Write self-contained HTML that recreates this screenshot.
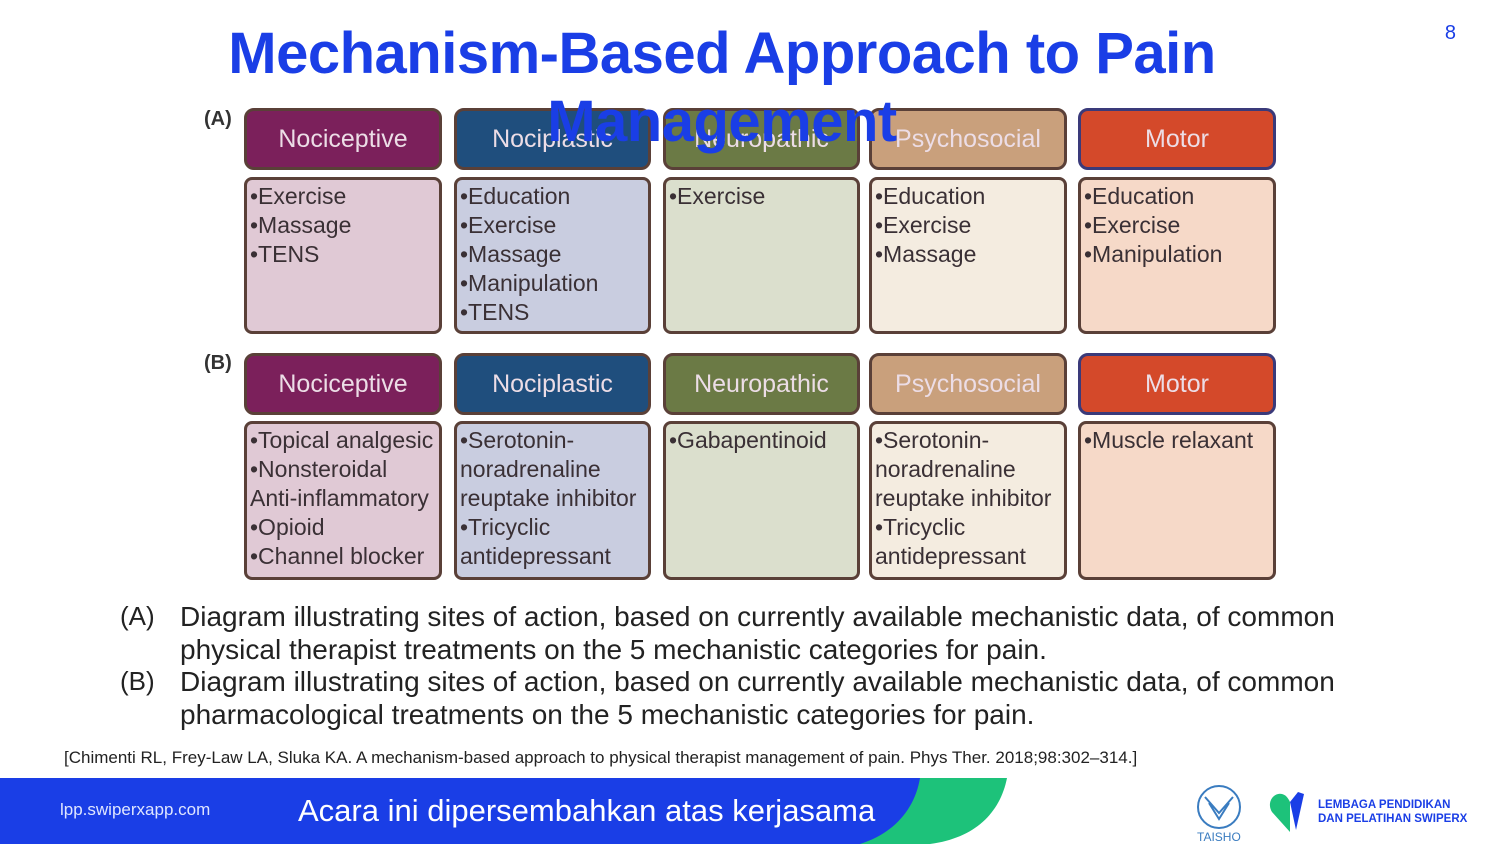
<!DOCTYPE html>
<html><head><meta charset="utf-8"><style>
body{margin:0;width:1500px;height:844px;background:#fff;position:relative;overflow:hidden;font-family:"Liberation Sans",sans-serif}
.t{position:absolute;left:0;width:1444px;text-align:center;font-weight:bold;color:#1a3ee6;font-size:58px;line-height:68px;letter-spacing:-0.5px}
.h,.b{position:absolute;box-sizing:border-box;border:3px solid #5a4038;border-radius:10px}
.h{height:62px;color:#ecdde6;font-size:25px;text-align:center;line-height:56px}
.b{padding:2px 3px;font-size:23px;line-height:29px;color:#3a3035;border-radius:8px}
.lab{position:absolute;font-weight:bold;font-size:20px;color:#333}
.cap{position:absolute;font-size:28px;line-height:33px;color:#222}
</style></head><body>
<div style="position:absolute;right:44px;top:22px;color:#1a3ee6;font-size:20px">8</div>
<div class="t" style="top:20px">Mechanism-Based Approach to Pain</div>
<div class="lab" style="left:204px;top:108px">(A)</div>
<div class="lab" style="left:204px;top:352px">(B)</div>

<div class="h" style="left:244px;top:108px;width:198px;background:#7b205b">Nociceptive</div>
<div class="h" style="left:454px;top:108px;width:197px;background:#1f4e7d">Nociplastic</div>
<div class="h" style="left:663px;top:108px;width:197px;background:#6b7a45">Neuropathic</div>
<div class="h" style="left:869px;top:108px;width:198px;background:#c9a07c">Psychosocial</div>
<div class="h" style="left:1078px;top:108px;width:198px;background:#d4492a;border-color:#3a3a7a">Motor</div>
<div class="b" style="left:244px;top:177px;width:198px;height:157px;background:#e0c9d5">•Exercise<br>•Massage<br>•TENS</div>
<div class="b" style="left:454px;top:177px;width:197px;height:157px;background:#c9cde0">•Education<br>•Exercise<br>•Massage<br>•Manipulation<br>•TENS</div>
<div class="b" style="left:663px;top:177px;width:197px;height:157px;background:#dbdfcd">•Exercise</div>
<div class="b" style="left:869px;top:177px;width:198px;height:157px;background:#f4ece0">•Education<br>•Exercise<br>•Massage</div>
<div class="b" style="left:1078px;top:177px;width:198px;height:157px;background:#f6d9c8">•Education<br>•Exercise<br>•Manipulation</div>

<div class="h" style="left:244px;top:353px;width:198px;background:#7b205b">Nociceptive</div>
<div class="h" style="left:454px;top:353px;width:197px;background:#1f4e7d">Nociplastic</div>
<div class="h" style="left:663px;top:353px;width:197px;background:#6b7a45">Neuropathic</div>
<div class="h" style="left:869px;top:353px;width:198px;background:#c9a07c">Psychosocial</div>
<div class="h" style="left:1078px;top:353px;width:198px;background:#d4492a;border-color:#3a3a7a">Motor</div>
<div class="b" style="left:244px;top:421px;width:198px;height:159px;background:#e0c9d5">•Topical analgesic<br>•Nonsteroidal<br>Anti-inflammatory<br>•Opioid<br>•Channel blocker</div>
<div class="b" style="left:454px;top:421px;width:197px;height:159px;background:#c9cde0">•Serotonin-<br>noradrenaline<br>reuptake inhibitor<br>•Tricyclic<br>antidepressant</div>
<div class="b" style="left:663px;top:421px;width:197px;height:159px;background:#dbdfcd">•Gabapentinoid</div>
<div class="b" style="left:869px;top:421px;width:198px;height:159px;background:#f4ece0">•Serotonin-<br>noradrenaline<br>reuptake inhibitor<br>•Tricyclic<br>antidepressant</div>
<div class="b" style="left:1078px;top:421px;width:198px;height:159px;background:#f6d9c8">•Muscle relaxant</div>

<div class="t" style="top:88px">Management</div>

<div class="cap" style="left:120px;top:600px;font-size:26px">(A)</div>
<div class="cap" style="left:180px;top:600px">Diagram illustrating sites of action, based on currently available mechanistic data, of common<br>physical therapist treatments on the 5 mechanistic categories for pain.</div>
<div class="cap" style="left:120px;top:665px;font-size:26px">(B)</div>
<div class="cap" style="left:180px;top:665px">Diagram illustrating sites of action, based on currently available mechanistic data, of common<br>pharmacological treatments on the 5 mechanistic categories for pain.</div>
<div style="position:absolute;left:64px;top:748px;font-size:17px;color:#222">[Chimenti RL, Frey-Law LA, Sluka KA. A mechanism-based approach to physical therapist management of pain. Phys Ther. 2018;98:302–314.]</div>

<svg style="position:absolute;left:0;top:778px" width="1010" height="66">
<path d="M0 0H1007C1000 35 975 60 930 66H0Z" fill="#1dc27a"/>
<path d="M0 0H920C915 30 895 55 860 66H0Z" fill="#1a3ee6"/>
</svg>
<div style="position:absolute;left:60px;top:800px;color:#dfe6ff;font-size:17px">lpp.swiperxapp.com</div>
<div style="position:absolute;left:298px;top:793px;color:#fff;font-size:31px">Acara ini dipersembahkan atas kerjasama</div>

<svg style="position:absolute;left:1195px;top:783px" width="50" height="60">
<circle cx="24" cy="24" r="21" fill="none" stroke="#3a7cc0" stroke-width="2"/>
<path d="M10 14L24 30L38 14M14 20L24 36L34 20" fill="none" stroke="#3a7cc0" stroke-width="2"/>
<text x="2" y="58" font-size="12" fill="#3a7cc0" font-family="Liberation Sans">TAISHO</text>
</svg>
<svg style="position:absolute;left:1268px;top:790px" width="45" height="44">
<path d="M22 42L4 22C-2 12 6 2 14 4C18 5 20 8 22 12Z" fill="#1dc27a"/>
<path d="M22 12L30 2L36 4L28 40Z" fill="#1a3ee6"/>
</svg>
<div style="position:absolute;left:1318px;top:798px;color:#1a3ee6;font-size:11.5px;font-weight:bold;line-height:14px">LEMBAGA PENDIDIKAN<br>DAN PELATIHAN SWIPERX</div>
</body></html>
